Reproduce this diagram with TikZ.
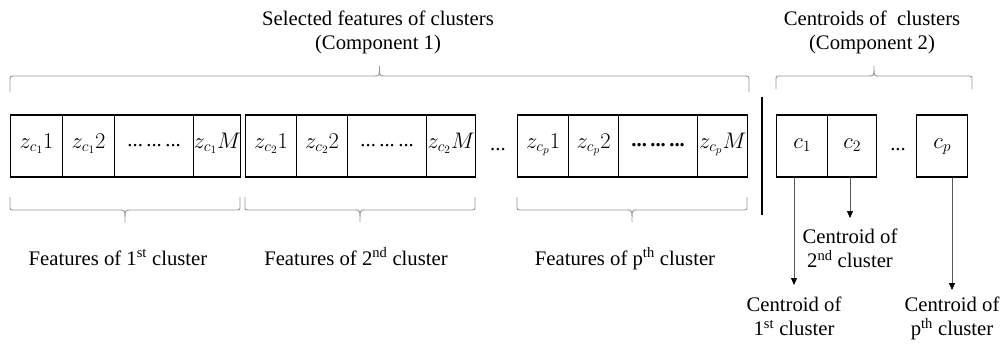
\RequirePackage{fix-cm}
\documentclass[tikz,border=0pt]{standalone}
\usepackage{amsmath}
\usepackage{fontspec}
\setmainfont{Liberation Serif}
\usetikzlibrary{arrows.meta,calc}

% curly brace made of straight runs and short rounded bends
% #1 left x, #2 right x, #3 y of the ends, #4 y of the long runs, #5 y of the tip
\newcommand{\clusterbrace}[5]{%
  \draw[bracestyle] (#1,#3) -- (#1,{#4+0.3*(#3-#4)})
    .. controls (#1,#4) .. ({#1+5},#4)
    -- ({(#1+#2)/2-5},#4) .. controls ({(#1+#2)/2},#4) .. ({(#1+#2)/2},#5)
    .. controls ({(#1+#2)/2},#4) .. ({(#1+#2)/2+5},#4)
    -- ({#2-5},#4) .. controls (#2,#4) .. (#2,{#4+0.3*(#3-#4)}) -- (#2,#3);}

% rows of dots standing for the skipped features
\newcommand{\featdots}{{\fontsize{20.7}{24}\selectfont\raisebox{2pt}{...\,...\,...}}}
\newcommand{\heavydots}{{\fontsize{20.7}{24}\selectfont\raisebox{2pt}{\textbf{...\,...\,...}}}}

\begin{document}
\begin{tikzpicture}[x=1pt,y=-1pt,
  bigfont/.style={font=\fontsize{20.7}{24}\selectfont},
  cell/.style={draw=black, line width=1.3pt, inner sep=0pt,
    text height=33pt, text depth=29pt, anchor=west,
    font=\fontsize{22.5}{26}\selectfont},
  txt/.style={bigfont, inner sep=0pt, align=center},
  bracestyle/.style={draw=gray!80, line width=0.9pt},
  arr/.style={draw=gray!70!black, line width=0.8pt,
    -{Triangle[length=7pt,width=6pt,color=black]}},
  sepbar/.style={draw=black, line width=2pt}]
\useasboundingbox (0,0) rectangle (1008,345);

% features of the first cluster
\node[cell, minimum width=52pt] (a1) at (10,146) {$z_{c_1}1$};
\node[cell, minimum width=52pt] (a2) at (62,146) {$z_{c_1}2$};
\node[cell, minimum width=79pt] (a3) at (114,146) {\featdots};
\node[cell, minimum width=47pt] (a4) at (193,146) {$z_{c_1}M$};

% features of the second cluster
\node[cell, minimum width=51pt] (b1) at (245,146) {$z_{c_2}1$};
\node[cell, minimum width=51pt] (b2) at (296,146) {$z_{c_2}2$};
\node[cell, minimum width=79pt] (b3) at (347,146) {\featdots};
\node[cell, minimum width=49pt] (b4) at (426,146) {$z_{c_2}M$};

\node[txt, anchor=base] (gdots) at (498,150) {...};

% features of the p-th cluster
\node[cell, minimum width=51pt] (p1) at (517,146) {$z_{c_p}1$};
\node[cell, minimum width=50pt] (p2) at (568,146) {$z_{c_p}2$};
\node[cell, minimum width=79pt] (p3) at (618,146) {\heavydots};
\node[cell, minimum width=50pt] (p4) at (697,146) {$z_{c_p}M$};

% separator between the two components
\coordinate (bartop) at (762,97);
\coordinate (barbot) at (762,215);
\draw[sepbar] (bartop) -- (barbot);

% centroids
\node[cell, minimum width=51pt] (c1) at (776,146) {$c_1$};
\node[cell, minimum width=49pt] (c2) at (827,146) {$c_2$};
\node[txt, anchor=base] (cdots) at (898,150) {...};
\node[cell, minimum width=51pt] (cp) at (916,146) {$c_p$};

% braces above
\clusterbrace{10}{749}{92}{76}{66}
\clusterbrace{776}{972}{89}{76}{66}
\node[txt, anchor=north] (comp1) at (378,11) {Selected features of clusters\\(Component 1)};
\node[txt, anchor=north] (comp2) at (872,11) {Centroids of\ \ clusters\\(Component 2)};

% braces below
\clusterbrace{10}{240}{197}{210}{222}
\clusterbrace{245}{475}{197}{210}{222}
\clusterbrace{517}{747}{197}{210}{222}
\node[txt, anchor=base] (f1) at (118,265) {Features of 1\textsuperscript{st} cluster};
\node[txt, anchor=base] (f2) at (356,265) {Features of 2\textsuperscript{nd} cluster};
\node[txt, anchor=base] (fp) at (625,265) {Features of p\textsuperscript{th} cluster};

% centroid captions
\node[txt, anchor=north] (l2) at (850,229) {Centroid of\\2\textsuperscript{nd} cluster};
\node[txt, anchor=north] (l1) at (794,297) {Centroid of\\1\textsuperscript{st} cluster};
\node[txt, anchor=north] (lp) at (952,297) {Centroid of\\p\textsuperscript{th} cluster};

\draw[arr] (c1.south -| l1.north) -- ([yshift=12pt]l1.north);
\draw[arr] (c2.south -| l2.north) -- ([yshift=11pt]l2.north);
\draw[arr] (cp.south -| lp.north) -- ([yshift=7pt]lp.north);
\end{tikzpicture}
\end{document}
